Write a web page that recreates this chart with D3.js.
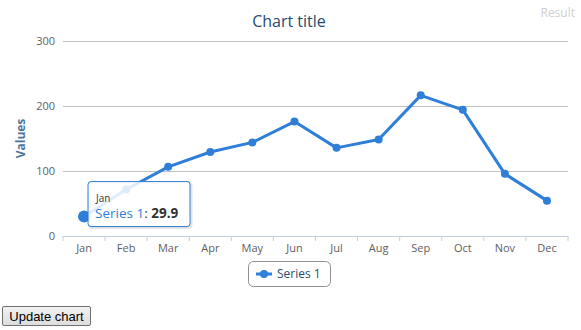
<!DOCTYPE html>
<html>
<head>
<meta charset="utf-8">
<script src="https://cdn.jsdelivr.net/npm/d3@7"></script>
<style>
  body { margin: 0; background: #fff; font-family: "Open Sans", "DejaVu Sans", sans-serif; }
  #chart { position: absolute; left: 0; top: 0; }
  #update {
    position: absolute; left: 2px; top: 306px; height: 20px; width: 89px;
    font-family: "Liberation Sans", Arial, sans-serif; font-size: 13px;
    padding: 0; border: 1px solid #707070; border-radius: 2px;
    background: linear-gradient(#f2f2f2, #dddddd); color: #000;
  }
</style>
</head>
<body>
<div id="chart"></div>
<button id="update">Update chart</button>
<script>
var months = ["Jan", "Feb", "Mar", "Apr", "May", "Jun", "Jul", "Aug", "Sep", "Oct", "Nov", "Dec"];
var series1 = [29.9, 71.5, 106.4, 129.2, 144.0, 176.0, 135.6, 148.5, 216.4, 194.1, 95.6, 54.4];
var yTicks = [0, 100, 200, 300];
var seriesName = "Series 1";

var width = 581, height = 300;
var plotLeft = 63, plotRight = 568, plotTop = 41, plotBottom = 236;
var blue = "#2f7ed8";

var svg = d3.select("#chart").append("svg")
  .attr("width", width)
  .attr("height", height);

var x = d3.scaleBand().domain(months).range([plotLeft, plotRight]);
var y = d3.scaleLinear().domain([0, 300]).range([plotBottom, plotTop]);

// title
svg.append("text")
  .attr("x", 289).attr("y", 27)
  .attr("text-anchor", "middle")
  .attr("font-size", 16)
  .attr("fill", "#274b6d")
  .text("Chart title");

svg.append("text")
  .attr("x", 575).attr("y", 17)
  .attr("text-anchor", "end")
  .attr("font-size", 12)
  .attr("fill", "#cfcfcf")
  .text("Result");

// grid + y axis
var yAxis = svg.append("g")
  .attr("transform", "translate(" + plotLeft + ",0)")
  .call(d3.axisLeft(y).tickValues(yTicks).tickSize(-(plotRight - plotLeft)).tickPadding(8));
yAxis.select(".domain").remove();
yAxis.selectAll(".tick line").attr("stroke", "#c0c0c0");
yAxis.selectAll(".tick text")
  .attr("fill", "#606060").attr("font-size", 11)
  .attr("font-family", "Open Sans, DejaVu Sans, sans-serif");

svg.append("text")
  .attr("transform", "translate(25," + ((plotTop + plotBottom) / 2) + ") rotate(-90)")
  .attr("text-anchor", "middle")
  .attr("font-size", 12)
  .attr("font-weight", "bold")
  .attr("fill", "#4d759e")
  .text("Values");

// x axis
var xAxis = svg.append("g")
  .attr("transform", "translate(0," + plotBottom + ")")
  .call(d3.axisBottom(x).tickSize(0).tickPadding(8));
xAxis.select(".domain").attr("stroke", "#c0d0e0");
xAxis.selectAll(".tick text")
  .attr("fill", "#606060").attr("font-size", 11)
  .attr("font-family", "Open Sans, DejaVu Sans, sans-serif");
var edges = months.map(function(m) { return x(m); }).concat([plotRight]);
svg.append("g").selectAll("line")
  .data(edges)
  .enter().append("line")
  .attr("x1", function(d) { return d; }).attr("x2", function(d) { return d; })
  .attr("y1", plotBottom).attr("y2", plotBottom + 5)
  .attr("stroke", "#c0d0e0");

// series
var cx = function(d, i) { return x(months[i]) + x.bandwidth() / 2; };
var line = d3.line().x(cx).y(function(d) { return y(d); });
svg.append("path")
  .datum(series1)
  .attr("d", line)
  .attr("fill", "none")
  .attr("stroke", blue)
  .attr("stroke-width", 3)
  .attr("stroke-linejoin", "round");

svg.append("g").selectAll("circle")
  .data(series1)
  .enter().append("circle")
  .attr("cx", cx)
  .attr("cy", function(d) { return y(d); })
  .attr("r", function(d, i) { return i === 0 ? 6 : 4; })
  .attr("fill", blue);

// tooltip on Jan
var tx = cx(series1[0], 0) + 4, ty = y(series1[0]) - 35;
var tip = svg.append("g").attr("transform", "translate(" + tx + "," + ty + ")");
tip.append("rect")
  .attr("x", 1).attr("y", 1).attr("width", 102).attr("height", 45)
  .attr("rx", 3).attr("fill", "none").attr("stroke", "#000").attr("stroke-opacity", 0.1).attr("stroke-width", 3);
tip.append("rect")
  .attr("width", 102).attr("height", 45)
  .attr("rx", 3)
  .attr("fill", "#fff").attr("fill-opacity", 0.85)
  .attr("stroke", blue).attr("stroke-width", 1);
tip.append("text")
  .attr("x", 8).attr("y", 20)
  .attr("font-size", 10).attr("fill", "#333")
  .text(months[0]);
var tt = tip.append("text").attr("x", 7).attr("y", 36).attr("font-size", 13.5);
tt.append("tspan").attr("fill", blue).text(seriesName);
tt.append("tspan").attr("fill", "#333").text(": ");
tt.append("tspan").attr("fill", "#333").attr("font-weight", "bold").text(series1[0]);

// legend
var lg = svg.append("g").attr("transform", "translate(248,261)");
lg.append("rect")
  .attr("x", 0.5).attr("y", 0.5).attr("width", 82).attr("height", 25)
  .attr("rx", 5).attr("fill", "#fff").attr("stroke", "#909090");
lg.append("line")
  .attr("x1", 8).attr("x2", 24).attr("y1", 13).attr("y2", 13)
  .attr("stroke", blue).attr("stroke-width", 3);
lg.append("circle").attr("cx", 16).attr("cy", 13).attr("r", 4).attr("fill", blue);
lg.append("text")
  .attr("x", 29).attr("y", 17)
  .attr("font-size", 12).attr("fill", "#274b6d")
  .text(seriesName);
</script>
</body>
</html>
